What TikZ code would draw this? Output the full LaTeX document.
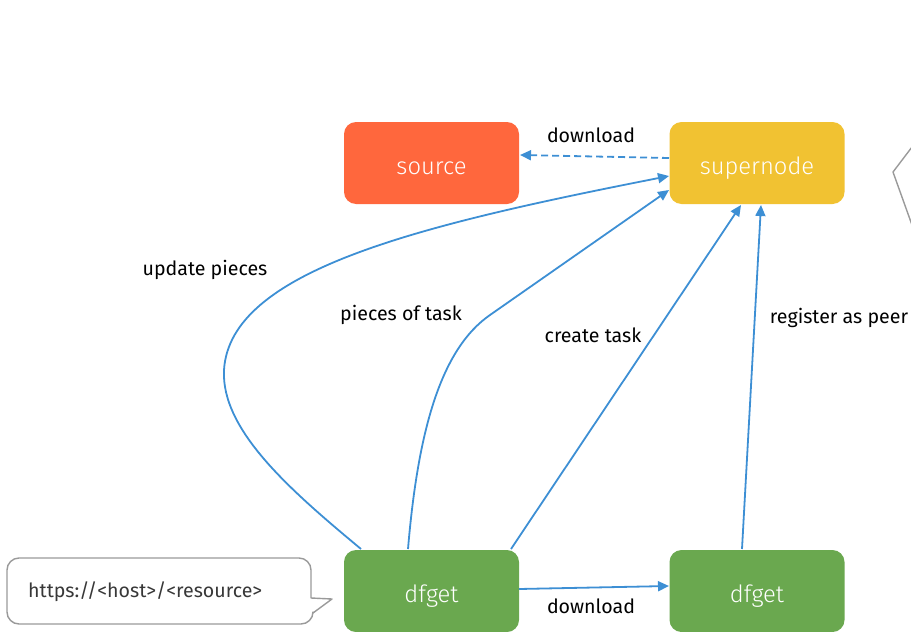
\documentclass[tikz,border=0pt]{standalone}
\usepackage{fontspec}
\setmainfont{Fira Sans}
\newfontfamily\lightfont{Fira Sans Light}
\usetikzlibrary{arrows.meta}
\definecolor{srccol}{HTML}{FF673D}
\definecolor{supcol}{HTML}{F1C232}
\definecolor{grncol}{HTML}{6AA84F}
\definecolor{lncol}{HTML}{3D8FD4}
\definecolor{callcol}{HTML}{9A9A9A}
\tikzset{
  box/.style={rounded corners=12pt, minimum width=175pt, minimum height=82pt, text=white, font=\lightfont\fontsize{23.8}{27}\selectfont, inner sep=0pt, text height=24pt, text depth=2pt},
  conn/.style={draw=lncol, line width=1.8pt, -{Triangle[length=11pt,width=10pt]}},
  lbl/.style={font=\fontsize{19.6}{23}\selectfont, text=black, inner sep=0pt},
  callout/.style={draw=callcol, line width=1.4pt, line join=round}
}
\begin{document}
\begin{tikzpicture}[x=1pt,y=-1pt]
\useasboundingbox (0,0) rectangle (911,632);
\node[box, fill=srccol] (source) at (431.5,163) {source};
\node[box, fill=supcol] (super) at (757,163) {supernode};
\node[box, fill=grncol] (dfa) at (431.5,591) {dfget};
\node[box, fill=grncol] (dfb) at (757,591) {dfget};

% callout left
\draw[callout, fill=white] (19,558) -- (299,558) arc[start angle=90,end angle=0,radius=12pt] -- (311,598) -- (332,599) -- (313,613) -- (313,612) arc[start angle=0,end angle=-90,radius=12pt] -- (19,624) arc[start angle=270,end angle=180,radius=12pt] -- (7,570) arc[start angle=180,end angle=90,radius=12pt] -- cycle;
\node[lbl, anchor=west, text=black!78] (url) at (28,592) {https://<host>/<resource>};

% callout right (cut off)
\draw[callout] (912,147) -- (893,172) -- (912,225);

% connectors
\coordinate (s1) at (669,158);
\coordinate (t1) at (520,155);
\draw[conn, dashed, dash pattern=on 7pt off 4pt] (s1) -- (t1);
\node[lbl] (l1) at (591,135) {download};

\coordinate (a1) at (361,549);
\coordinate (a2) at (669,176);
\draw[conn] (a1) .. controls (290,490) and (221,430) .. (224,370) .. controls (230,270) and (420,225) .. (a2);
\node[lbl] (l2) at (205,270) {update pieces};

\coordinate (b1) at (408,549);
\coordinate (b2) at (669,190);
\draw[conn] (b1) .. controls (418,430) and (441,349) .. (490,315) -- (b2);
\node[lbl] (l3) at (401,315) {pieces of task};

\coordinate (c1) at (511,549);
\coordinate (c2) at (741,205);
\draw[conn] (c1) -- (c2);
\node[lbl] (l4) at (593,335) {create task};

\coordinate (d1) at (742,549);
\coordinate (d2) at (761,205);
\draw[conn] (d1) -- (d2);
\node[lbl] (l5) at (839,318) {register as peer};

\coordinate (e1) at (519,589);
\coordinate (e2) at (669,586);
\draw[conn] (e1) -- (e2);
\node[lbl] (l6) at (591,606) {download};
\end{tikzpicture}
\end{document}
